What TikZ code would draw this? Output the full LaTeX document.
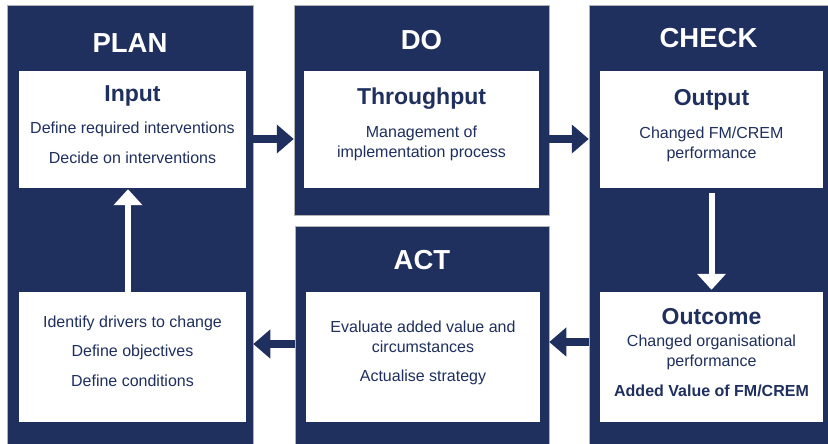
\documentclass[tikz,border=0pt]{standalone}
\usepackage{fontspec}
\setmainfont{Liberation Sans}
\usepackage{xcolor}
\usetikzlibrary{arrows.meta}
\definecolor{navy}{RGB}{31,47,94}

\begin{document}
\begin{tikzpicture}[x=1pt, y=-1pt,
    panel/.style={rectangle, draw=gray!60, line width=0.5pt, fill=navy, inner sep=0pt},
    card/.style={rectangle, fill=white, inner sep=0pt},
    phase/.style={text=white, font=\fontsize{27.5}{30}\selectfont\bfseries},
    heading/.style={text=navy, font=\fontsize{23}{26}\selectfont\bfseries},
    body/.style={text=navy, align=center, font=\fontsize{16}{20}\selectfont},
    darrow/.style={draw=navy, line width=8pt, -{Triangle[length=17pt, width=28pt]}},
    warrow/.style={draw=white, line width=6pt, -{Triangle[length=16pt, width=28pt]}}]
            \useasboundingbox (0,0) rectangle (828,444);

            % Panels
            \node[panel, minimum width=246pt, minimum height=439pt] (plan) at (130,224.5) {};
            \node[panel, minimum width=255pt, minimum height=210pt] (do) at (421.5,110) {};
            \node[panel, minimum width=239pt, minimum height=439pt] (check) at (708.5,224.5) {};
            \node[panel, minimum width=254pt, minimum height=218pt] (act) at (422,335) {};

            % Phase titles
            \node[phase] (plantitle) at (130,43) {PLAN};
            \node[phase] (dotitle) at (421.5,40) {DO};
            \node[phase] (checktitle) at (708.5,38) {CHECK};
            \node[phase] (acttitle) at (422,260) {ACT};

            % White boxes
            \node[card, minimum width=227pt, minimum height=117pt] (input) at (132.5,129.5) {};
            \node[card, minimum width=227pt, minimum height=130pt] (drivers) at (132.5,357) {};
            \node[card, minimum width=235pt, minimum height=117pt] (through) at (421.5,129.5) {};
            \node[card, minimum width=223pt, minimum height=117pt] (output) at (711.5,129.5) {};
            \node[card, minimum width=234pt, minimum height=130pt] (evaluate) at (423,357) {};
            \node[card, minimum width=223pt, minimum height=130pt] (outcome) at (711.5,357) {};

            % Texts
            \node[heading] (inputhead) at (132.5,96) {Input};
            \node[body] (inputa) at (132.5,129) {Define required interventions};
            \node[body] (inputb) at (132.5,158) {Decide on interventions};

            \node[heading] (throughhead) at (421.5,99) {Throughput};
            \node[body] (througha) at (421.5,143) {Management of\\implementation process};

            \node[heading] (outputhead) at (711.5,100) {Output};
            \node[body] (outputa) at (711.5,144.5) {Changed FM/CREM\\performance};

            \node[body] (driversa) at (132.5,323) {Identify drivers to change};
            \node[body] (driversb) at (132.5,352) {Define objectives};
            \node[body] (driversc) at (132.5,381) {Define conditions};

            \node[body] (evaluatea) at (423,337) {Evaluate added value and\\circumstances};
            \node[body] (evaluateb) at (423,377) {Actualise strategy};

            \node[heading] (outcomehead) at (711.5,317) {Outcome};
            \node[body] (outcomea) at (711.5,352) {Changed organisational\\performance};
            \node[body, font=\fontsize{16}{20}\selectfont\bfseries] (outcomeb) at (711.5,391) {Added Value of FM/CREM};

            % Arrows between the phases
            \draw[darrow] ([yshift=-9.5pt]plan.east |- input.center) -- ([yshift=-9.5pt]do.west |- input.center);
            \draw[darrow] ([yshift=-9.5pt]do.east |- through.center) -- ([yshift=-9.5pt]check.west |- through.center);
            \draw[darrow] ([yshift=15pt]check.west |- outcome.center) -- ([yshift=15pt]act.east |- outcome.center);
            \draw[darrow] ([yshift=13pt]act.west |- evaluate.center) -- ([yshift=13pt]plan.east |- evaluate.center);

            % Arrows inside the phases
            \draw[warrow] ([yshift=-5pt]output.south) -- ([yshift=2pt]outcome.north);
            \draw[warrow] ([xshift=-4.5pt]drivers.north) -- ([xshift=-4.5pt, yshift=-1pt]input.south);
        \end{tikzpicture}
\end{document}
